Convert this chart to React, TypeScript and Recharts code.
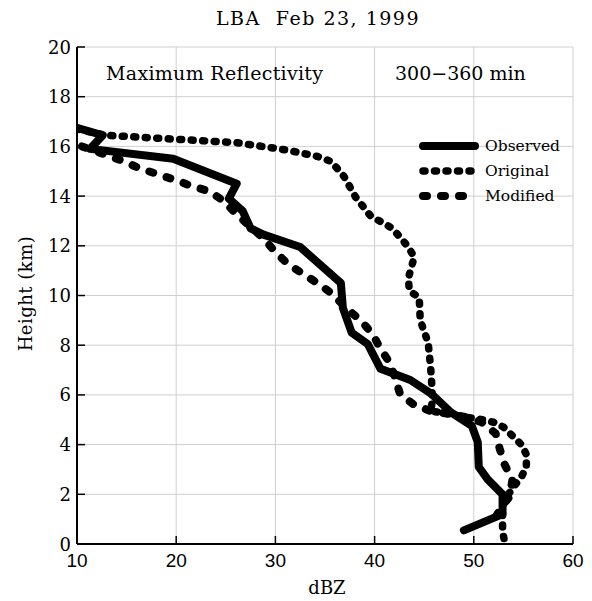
import { LineChart, Line, XAxis, YAxis, CartesianGrid, Legend } from "recharts"

// dBZ (x) vs height in km (y)
const observed = [
  { dbz: 10, h: 16.75 }, { dbz: 12.6, h: 16.45 }, { dbz: 11.3, h: 15.9 }, { dbz: 19.7, h: 15.5 },
  { dbz: 26.1, h: 14.5 }, { dbz: 25.3, h: 13.9 }, { dbz: 26.7, h: 13.4 }, { dbz: 27.5, h: 12.7 },
  { dbz: 28.8, h: 12.45 }, { dbz: 32.5, h: 11.95 }, { dbz: 36.6, h: 10.5 }, { dbz: 36.8, h: 9.5 },
  { dbz: 37.7, h: 8.5 }, { dbz: 39.3, h: 8.05 }, { dbz: 40.6, h: 7.05 }, { dbz: 43.6, h: 6.6 },
  { dbz: 45.7, h: 6.05 }, { dbz: 47.7, h: 5.3 }, { dbz: 49.8, h: 4.75 }, { dbz: 50.4, h: 4.1 },
  { dbz: 50.5, h: 3.1 }, { dbz: 51.4, h: 2.6 }, { dbz: 52.9, h: 2.0 }, { dbz: 52.9, h: 1.2 },
  { dbz: 49.0, h: 0.55 },
]

const original = [
  { dbz: 10, h: 16.7 }, { dbz: 12.8, h: 16.45 }, { dbz: 19.4, h: 16.3 }, { dbz: 26.1, h: 16.15 },
  { dbz: 31.2, h: 15.85 }, { dbz: 34.2, h: 15.6 }, { dbz: 35.6, h: 15.4 }, { dbz: 36.9, h: 14.8 },
  { dbz: 38.1, h: 13.95 }, { dbz: 39.6, h: 13.2 }, { dbz: 41.8, h: 12.7 }, { dbz: 43.3, h: 12.0 },
  { dbz: 44.0, h: 11.55 }, { dbz: 43.4, h: 10.7 }, { dbz: 43.5, h: 10.2 }, { dbz: 44.5, h: 9.9 },
  { dbz: 44.6, h: 9.0 }, { dbz: 45.4, h: 8.1 }, { dbz: 45.65, h: 7.1 }, { dbz: 45.8, h: 6.2 },
  { dbz: 45.8, h: 5.7 }, { dbz: 45.65, h: 5.35 }, { dbz: 47.3, h: 5.25 }, { dbz: 49.3, h: 5.1 },
  { dbz: 50.9, h: 5.0 }, { dbz: 52.0, h: 4.9 }, { dbz: 53.0, h: 4.7 }, { dbz: 53.9, h: 4.35 },
  { dbz: 54.8, h: 4.0 }, { dbz: 55.3, h: 3.6 }, { dbz: 55.3, h: 3.1 }, { dbz: 54.8, h: 2.7 },
  { dbz: 54.1, h: 2.35 }, { dbz: 53.4, h: 1.95 }, { dbz: 52.9, h: 1.5 }, { dbz: 52.9, h: 1.0 },
  { dbz: 52.9, h: 0.5 }, { dbz: 53.1, h: 0.1 },
]

const modified = [
  { dbz: 10.5, h: 16.0 }, { dbz: 13.0, h: 15.65 }, { dbz: 14.7, h: 15.4 }, { dbz: 16.4, h: 15.1 },
  { dbz: 18.0, h: 14.9 }, { dbz: 19.9, h: 14.65 }, { dbz: 21.6, h: 14.4 }, { dbz: 23.3, h: 14.2 },
  { dbz: 24.8, h: 13.8 }, { dbz: 26.0, h: 13.3 }, { dbz: 28.8, h: 12.3 }, { dbz: 30.0, h: 11.75 },
  { dbz: 31.3, h: 11.25 }, { dbz: 32.9, h: 10.85 }, { dbz: 34.4, h: 10.45 }, { dbz: 35.8, h: 10.05 },
  { dbz: 37.1, h: 9.5 }, { dbz: 38.6, h: 9.0 }, { dbz: 39.8, h: 8.45 }, { dbz: 40.6, h: 7.85 },
  { dbz: 41.6, h: 7.25 }, { dbz: 42.6, h: 6.0 }, { dbz: 44.0, h: 5.6 }, { dbz: 45.65, h: 5.35 },
  { dbz: 47.3, h: 5.25 }, { dbz: 49.3, h: 5.1 }, { dbz: 50.8, h: 4.9 }, { dbz: 52.2, h: 4.45 },
  { dbz: 52.6, h: 3.85 }, { dbz: 53.1, h: 3.2 }, { dbz: 53.9, h: 2.6 }, { dbz: 53.6, h: 1.9 },
  { dbz: 52.9, h: 1.55 }, { dbz: 51.7, h: 0.75 },
]

const xTicks = [10, 20, 30, 40, 50, 60]
const yTicks = [0, 2, 4, 6, 8, 10, 12, 14, 16, 18, 20]

const SERIES = [
  { name: "Observed", data: observed, width: 8, dash: undefined },
  { name: "Original", data: original, width: 7.5, dash: "2 9.5" },
  { name: "Modified", data: modified, width: 8, dash: "4 14" },
]

const SERIF = "'DejaVu Serif', serif"
const SANS = "'Liberation Sans', Arial, sans-serif"
const TICK = 8

// ticks point inward, labels sit outside the frame
function BottomTick({ x, y, payload }: any) {
  return (
    <g>
      <line x1={x} x2={x} y1={y - 8} y2={y - 8 - TICK} stroke="#000" strokeWidth={1.5} />
      <text x={x} y={y + 15} textAnchor="middle" fontFamily={SANS} fontSize={19} fill="#000">
        {payload.value}
      </text>
    </g>
  )
}

function LeftTick({ x, y, payload }: any) {
  return (
    <g>
      <line x1={x + 6} x2={x + 6 + TICK} y1={y} y2={y} stroke="#000" strokeWidth={1.5} />
      <text x={x} y={y + 6.5} textAnchor="end" fontFamily={SERIF} fontSize={18} fill="#000">
        {payload.value}
      </text>
    </g>
  )
}

function TopTick({ x, y }: any) {
  return <line x1={x} x2={x} y1={y} y2={y + TICK} stroke="#000" strokeWidth={1.5} />
}

function RightTick({ x, y }: any) {
  return <line x1={x} x2={x - TICK} y1={y} y2={y} stroke="#000" strokeWidth={1.5} />
}

function LegendBox() {
  return (
    <div style={{ fontFamily: SERIF, fontSize: 15.5 }}>
      {SERIES.map((s) => (
        <div key={s.name} style={{ display: "flex", alignItems: "center", height: 25 }}>
          <svg width={64} height={12}>
            <line
              x1={6}
              y1={6}
              x2={58}
              y2={6}
              stroke="#000"
              strokeWidth={s.width}
              strokeDasharray={s.dash}
              strokeLinecap="round"
            />
          </svg>
          <span style={{ marginLeft: 4 }}>{s.name}</span>
        </div>
      ))}
    </div>
  )
}

const frame = { stroke: "#000", strokeWidth: 2 }

export default function App() {
  return (
    <div style={{ position: "absolute", left: 0, top: 0, width: 592, height: 601, background: "#fff" }}>
      <div
        style={{
          position: "absolute", left: 0, width: 636, top: 7, textAlign: "center",
          fontFamily: SERIF, fontSize: 19, letterSpacing: 1.5, whiteSpace: "pre",
        }}
      >
        {"LBA  Feb 23, 1999"}
      </div>
      <LineChart width={592} height={601} margin={{ top: 47, right: 19, bottom: 27, left: 0 }}>
        <CartesianGrid stroke="#cfcfcf" strokeWidth={1} />
        <XAxis
          dataKey="dbz"
          type="number"
          domain={[10, 60]}
          ticks={xTicks}
          allowDataOverflow
          height={30}
          tickSize={0}
          tickMargin={8}
          tick={BottomTick}
          tickLine={false}
          axisLine={frame}
        />
        <XAxis
          xAxisId="top"
          orientation="top"
          dataKey="dbz"
          type="number"
          domain={[10, 60]}
          ticks={xTicks}
          height={0}
          tickSize={0}
          tickMargin={0}
          tick={TopTick}
          tickLine={false}
          axisLine={frame}
        />
        <YAxis
          dataKey="h"
          type="number"
          domain={[0, 20]}
          ticks={yTicks}
          allowDataOverflow
          width={77}
          tickSize={0}
          tickMargin={6}
          tick={LeftTick}
          tickLine={false}
          axisLine={frame}
        />
        <YAxis
          yAxisId="right"
          orientation="right"
          dataKey="h"
          type="number"
          domain={[0, 20]}
          ticks={yTicks}
          width={0}
          tickSize={0}
          tickMargin={0}
          tick={RightTick}
          tickLine={false}
          axisLine={frame}
        />
        <Legend
          layout="vertical"
          align="center"
          verticalAlign="middle"
          content={() => <LegendBox />}
          wrapperStyle={{ left: 417, top: 133, width: 170, height: 80 }}
        />
        {SERIES.map((s) => (
          <Line
            key={s.name}
            name={s.name}
            data={s.data}
            dataKey="h"
            type="linear"
            stroke="#000"
            strokeWidth={s.width}
            strokeDasharray={s.dash}
            strokeLinecap="round"
            strokeLinejoin="round"
            dot={false}
            activeDot={false}
            isAnimationActive={false}
          />
        ))}
      </LineChart>
      <div
        style={{
          position: "absolute", left: 106, top: 62, fontFamily: SERIF, fontSize: 19,
          letterSpacing: 0.3, whiteSpace: "pre",
        }}
      >
        Maximum Reflectivity
      </div>
      <div
        style={{
          position: "absolute", left: 395, top: 62, fontFamily: SERIF, fontSize: 19, whiteSpace: "pre",
        }}
      >
        300−360 min
      </div>
      <div
        style={{
          position: "absolute", left: 287, width: 80, top: 577, textAlign: "center",
          fontFamily: SERIF, fontSize: 18,
        }}
      >
        dBZ
      </div>
      <div
        style={{
          position: "absolute", left: -45, top: 283, width: 140, textAlign: "center",
          fontFamily: SERIF, fontSize: 18, letterSpacing: 0.5, transform: "rotate(-90deg)",
        }}
      >
        Height (km)
      </div>
    </div>
  )
}
